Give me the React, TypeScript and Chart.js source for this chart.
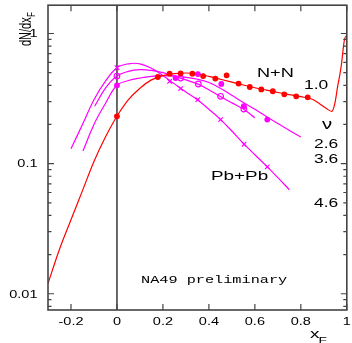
import React, { useEffect, useRef } from 'react';
import { Chart, registerables } from 'chart.js';
Chart.register(...registerables);

// ---- axis ticks ----
const xTickValues = [-0.2, 0, 0.2, 0.4, 0.6, 0.8, 1];
const xTickLabels = ['-0.2', '0', '0.2', '0.4', '0.6', '0.8', '1'];
const yMajorValues = [0.01, 0.1, 1];
const yMajorLabels = ['0.01', '0.1', '1'];
const yMinorValues = [0.008, 0.009, 0.02, 0.03, 0.04, 0.05, 0.06, 0.07, 0.08, 0.09, 0.2, 0.3, 0.4, 0.5, 0.6, 0.7, 0.8, 0.9];

// ---- N+N (red) model curve ----
const nnCurveX = [-0.3, -0.25, -0.2, -0.15, -0.1, -0.05, 0, 0.05, 0.1, 0.15, 0.2, 0.25, 0.3, 0.35, 0.4, 0.45, 0.5, 0.55, 0.6, 0.65, 0.7, 0.75, 0.8, 0.85, 0.88, 0.91, 0.935, 0.948, 0.96, 0.975, 0.99, 1.0];
const nnCurveY = [0.012, 0.022, 0.037, 0.062, 0.104, 0.16, 0.231, 0.31, 0.38, 0.44, 0.475, 0.492, 0.497, 0.488, 0.468, 0.445, 0.423, 0.402, 0.383, 0.367, 0.352, 0.339, 0.327, 0.312, 0.29, 0.266, 0.252, 0.29, 0.39, 0.55, 0.9, 0.97];
// N+N data points
const nnDataX = [0, 0.178, 0.229, 0.277, 0.328, 0.375, 0.428, 0.477, 0.529, 0.578, 0.628, 0.678, 0.728, 0.78, 0.83];
const nnDataY = [0.231, 0.463, 0.491, 0.494, 0.491, 0.471, 0.45, 0.477, 0.412, 0.388, 0.372, 0.36, 0.341, 0.329, 0.323];

// ---- magenta curves ----
// nu = 2.6 (filled dots)
const c26X = [-0.148, -0.1, -0.05, 0, 0.05, 0.1, 0.15, 0.2, 0.25, 0.3, 0.35, 0.4, 0.45, 0.5, 0.55, 0.6, 0.65, 0.7, 0.75, 0.8];
const c26Y = [0.125, 0.2, 0.29, 0.4, 0.435, 0.455, 0.468, 0.474, 0.47, 0.46, 0.445, 0.42, 0.38, 0.335, 0.295, 0.262, 0.23, 0.203, 0.18, 0.16];
const d26X = [0, 0.255, 0.352, 0.454, 0.552, 0.654];
const d26Y = [0.4, 0.454, 0.488, 0.41, 0.276, 0.218];
// nu = 3.6 (open circles)
const c36X = [-0.097, -0.05, 0, 0.05, 0.1, 0.15, 0.2, 0.25, 0.3, 0.35, 0.4, 0.45, 0.5, 0.55, 0.6];
const c36Y = [0.276, 0.38, 0.471, 0.512, 0.527, 0.52, 0.5, 0.47, 0.44, 0.41, 0.37, 0.328, 0.293, 0.263, 0.225];
const d36X = [0, 0.277, 0.354, 0.451, 0.552];
const d36Y = [0.471, 0.454, 0.409, 0.329, 0.263];
// nu = 4.6 Pb+Pb (crosses)
const c46X = [-0.2, -0.15, -0.1, -0.05, 0, 0.05, 0.1, 0.15, 0.2, 0.25, 0.3, 0.35, 0.4, 0.45, 0.5, 0.55, 0.6, 0.65, 0.7, 0.75];
const c46Y = [0.13, 0.2, 0.31, 0.43, 0.546, 0.585, 0.585, 0.54, 0.475, 0.41, 0.355, 0.31, 0.262, 0.219, 0.178, 0.143, 0.117, 0.096, 0.078, 0.063];
const d46X = [0, 0.229, 0.277, 0.352, 0.451, 0.553, 0.654];
const d46Y = [0.546, 0.429, 0.377, 0.31, 0.218, 0.141, 0.0945];

const RED = '#ff0000';
const MAG = '#ff00ff';
const FRAME = '#444444';
const SX = 1.45;
const SANS = '"Liberation Sans", Arial, sans-serif';

const zip = (xs: number[], ys: number[]) => xs.map((x, i) => ({ x, y: ys[i] }));

function text(ctx: CanvasRenderingContext2D, s: string, x: number, y: number, font: string, align: CanvasTextAlign = 'left') {
  ctx.save();
  ctx.translate(x, y);
  ctx.scale(SX, 1);
  ctx.font = font;
  ctx.textAlign = align;
  ctx.textBaseline = 'alphabetic';
  ctx.fillStyle = '#000';
  ctx.fillText(s, 0, 0);
  ctx.restore();
}

export default function App() {
  const ref = useRef<HTMLCanvasElement>(null);
  useEffect(() => {
    document.body.style.margin = '0';
    const canvas = ref.current!;
    const decor = {
      id: 'decor',
      beforeDatasetsDraw(chart: any) {
        const { ctx, chartArea: a, scales } = chart;
        const x0 = scales.x.getPixelForValue(0);
        ctx.save();
        ctx.strokeStyle = FRAME;
        ctx.lineWidth = 1.6;
        ctx.beginPath();
        ctx.moveTo(x0, a.top);
        ctx.lineTo(x0, a.bottom);
        ctx.stroke();
        ctx.restore();
      },
      afterDraw(chart: any) {
        const { ctx, chartArea: a, scales } = chart;
        const xs = scales.x, ys = scales.y;
        ctx.save();
        ctx.strokeStyle = FRAME;
        ctx.lineWidth = 1.6;
        ctx.strokeRect(a.left, a.top, a.right - a.left, a.bottom - a.top);
        ctx.lineWidth = 1.2;
        ctx.beginPath();
        const tick = (v: number, len: number) => {
          const py = ys.getPixelForValue(v);
          ctx.moveTo(a.left, py); ctx.lineTo(a.left + len, py);
          ctx.moveTo(a.right, py); ctx.lineTo(a.right - len, py);
        };
        yMajorValues.forEach(v => tick(v, 6));
        yMinorValues.forEach(v => tick(v, 3.5));
        xTickValues.forEach(v => {
          const px = xs.getPixelForValue(v);
          ctx.moveTo(px, a.bottom); ctx.lineTo(px, a.bottom - 6);
          ctx.moveTo(px, a.top); ctx.lineTo(px, a.top + 6);
        });
        ctx.stroke();
        ctx.restore();

        const tickFont = `10px ${SANS}`;
        yMajorValues.forEach((v, i) => text(ctx, yMajorLabels[i], 37.5, ys.getPixelForValue(v) + 3.8, tickFont, 'right'));
        xTickValues.forEach((v, i) => text(ctx, xTickLabels[i], xs.getPixelForValue(v), a.bottom + 15, tickFont, 'center'));

        // annotations
        text(ctx, 'N+N', 257, 77, `12.5px ${SANS}`);
        text(ctx, '1.0', 304, 89, `12px ${SANS}`);
        text(ctx, '\u03BD', 322, 129, `14px ${SANS}`);
        text(ctx, '2.6', 314, 148, `12px ${SANS}`);
        text(ctx, '3.6', 314, 163, `12px ${SANS}`);
        text(ctx, 'Pb+Pb', 211, 180, `13px ${SANS}`);
        text(ctx, '4.6', 314, 206.5, `12px ${SANS}`);
        text(ctx, 'NA49 preliminary', 141, 283, `10.5px "Liberation Mono", "Courier New", monospace`);
        // x axis title
        text(ctx, 'x', 310, 338, `13px ${SANS}`);
        text(ctx, 'F', 318.5, 342.5, `9.5px ${SANS}`);
        // y axis title (rotated)
        ctx.save();
        ctx.translate(31, 46);
        ctx.scale(SX, 1);
        ctx.rotate(-Math.PI / 2);
        ctx.fillStyle = '#000';
        ctx.textBaseline = 'alphabetic';
        ctx.textAlign = 'left';
        ctx.font = `11px ${SANS}`;
        ctx.fillText('dN/dx', 0, 0);
        const w = ctx.measureText('dN/dx').width;
        ctx.font = `7.5px ${SANS}`;
        ctx.fillText('F', w + 0.5, 2.6);
        ctx.restore();
      },
    };

    const lineDs = (label: string, xs: number[], ys: number[], color: string, mono: boolean) => ({
      label, data: zip(xs, ys), borderColor: color, backgroundColor: color,
      borderWidth: 1.2, pointRadius: 0, fill: false, tension: 0.4,
      cubicInterpolationMode: mono ? 'monotone' : 'default',
    });
    const ptsDs = (label: string, xs: number[], ys: number[], color: string, style: string, radius: number, filled: boolean) => ({
      label, data: zip(xs, ys), showLine: false, borderColor: color,
      backgroundColor: filled ? color : 'rgba(255,0,255,0)', pointStyle: style, pointRadius: radius,
      pointBorderWidth: 1.2, borderWidth: 1.2,
    });

    const chart = new Chart(canvas, {
      type: 'line',
      data: {
        datasets: [
          ptsDs('N+N data', nnDataX, nnDataY, RED, 'circle', 2.3, true) as any,
          ptsDs('2.6 data', d26X, d26Y, MAG, 'circle', 2.3, true),
          ptsDs('3.6 data', d36X, d36Y, MAG, 'circle', 2.8, false),
          ptsDs('4.6 data', d46X, d46Y, MAG, 'crossRot', 3.2, false),
          lineDs('N+N', nnCurveX, nnCurveY, RED, true),
          lineDs('2.6', c26X, c26Y, MAG, false),
          lineDs('3.6', c36X, c36Y, MAG, false),
          lineDs('4.6', c46X, c46Y, MAG, false),
        ],
      },
      options: {
        responsive: false,
        animation: false,
        layout: { padding: { top: 5, right: 4, left: 0, bottom: 0 } },
        plugins: { legend: { display: false }, tooltip: { enabled: false } },
        scales: {
          x: {
            type: 'linear', min: -0.3, max: 1,
            grid: { display: false }, border: { display: false }, ticks: { display: false },
            afterFit: (s: any) => { s.height = 33; },
          },
          y: {
            type: 'logarithmic', min: 0.0075, max: 1.65,
            grid: { display: false }, border: { display: false }, ticks: { display: false },
            afterFit: (s: any) => { s.width = 48; },
          },
        },
      } as any,
      plugins: [decor],
    });
    return () => chart.destroy();
  }, []);
  return <canvas ref={ref} width={352} height={343} style={{ display: 'block' }} />;
}
